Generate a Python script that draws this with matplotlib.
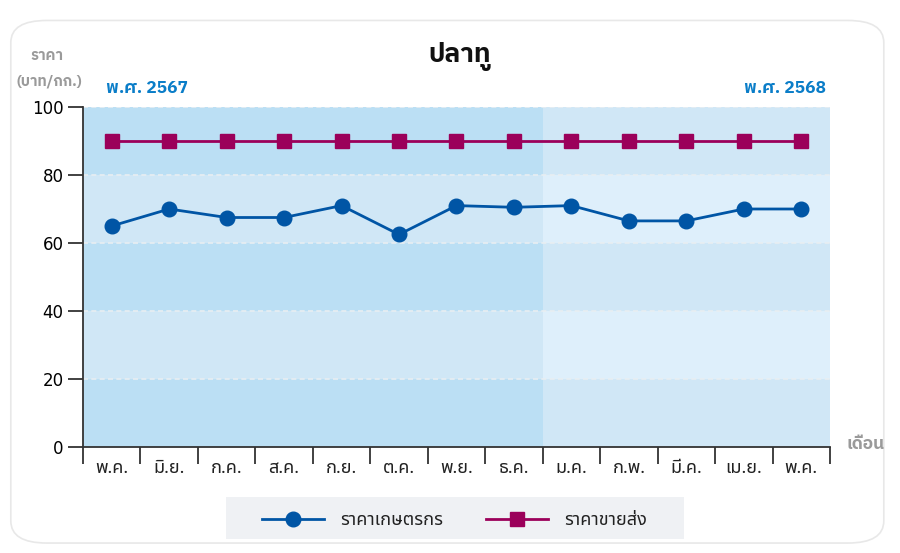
import matplotlib
matplotlib.use("Agg")
import matplotlib.pyplot as plt
from matplotlib.patches import FancyBboxPatch, Rectangle
from matplotlib.lines import Line2D
import numpy as np

plt.rcParams['font.family'] = ['DejaVu Sans', 'Noto Sans Thai']

months = ['พ.ค.', 'มิ.ย.', 'ก.ค.', 'ส.ค.', 'ก.ย.', 'ต.ค.', 'พ.ย.', 'ธ.ค.',
          'ม.ค.', 'ก.พ.', 'มี.ค.', 'เม.ย.', 'พ.ค.']
farm_price = [65, 70, 67.5, 67.5, 71, 62.5, 71, 70.5, 71, 66.5, 66.5, 70, 70]
wholesale_price = [90, 90, 90, 90, 90, 90, 90, 90, 90, 90, 90, 90, 90]
n_2567 = 8

blue = '#0055A5'
red = '#9B005A'
grey = '#9A9A9A'
yearblue = '#0A7DC8'
thai = ['Noto Sans Thai', 'DejaVu Sans']
thai_bold = ['IBM Plex Sans Thai', 'DejaVu Sans']

fig = plt.figure(figsize=(9, 5.53), dpi=100)

# card background
card = FancyBboxPatch((0.012, 0.018), 0.97, 0.945, boxstyle="round,pad=0,rounding_size=0.04",
                      transform=fig.transFigure, facecolor='white', edgecolor='#E8E8E8',
                      linewidth=1.2, zorder=-5)
fig.patches.append(card)

ax = fig.add_axes([0.0922, 0.1917, 0.830, 0.6148])
x = np.arange(len(months))
ax.set_xlim(-0.5, len(months) - 0.5)
ax.set_ylim(0, 100)
ax.set_facecolor('none')

# shaded bands
split = n_2567 - 0.5
for i, y0 in enumerate(range(0, 100, 20)):
    dark = (i % 2 == 0)
    left_c = '#BBDFF4' if dark else '#D0E7F6'
    right_c = '#D0E7F6' if dark else '#DEEFFB'
    ax.add_patch(Rectangle((-0.5, y0), split + 0.5, 20, facecolor=left_c, edgecolor='none', zorder=0))
    ax.add_patch(Rectangle((split, y0), len(months) - 0.5 - split, 20, facecolor=right_c,
                           edgecolor='none', zorder=0))
for yv in [20, 40, 60, 80, 100]:
    ax.axhline(yv, color='#E8EEF2', lw=1.2, ls=(0, (3, 2)), zorder=1)

ax.plot(x, wholesale_price, color=red, lw=2, marker='s', markersize=10, zorder=3)
ax.plot(x, farm_price, color=blue, lw=2, marker='o', markersize=10.5, zorder=4)

# axes styling
for s in ['top', 'right']:
    ax.spines[s].set_visible(False)
for s in ['left', 'bottom']:
    ax.spines[s].set_color('#333333')
    ax.spines[s].set_linewidth(1.3)
ax.set_yticks([0, 20, 40, 60, 80, 100])
ax.tick_params(axis='y', length=11, width=1.3, color='#333333', labelsize=12, pad=3)
ax.set_xticks(np.arange(-0.5, len(months), 1.0))
ax.set_xticklabels([])
ax.set_xticks(x, minor=True)
ax.set_xticklabels(months, minor=True, fontsize=13, family=thai, color='#222222')
ax.tick_params(axis='x', which='major', length=12, width=1.3, color='#333333')
ax.tick_params(axis='x', which='minor', length=0, pad=9)

# texts
fig.text(0.511, 0.898, 'ปลาทู', ha='center', va='center', fontsize=19, fontweight='bold',
         family=thai_bold, color='#111111')
fig.text(0.052, 0.899, 'ราคา', ha='center', va='center', fontsize=10.5, fontweight='bold',
         family=thai_bold, color=grey)
fig.text(0.055, 0.852, '(บาท/กก.)', ha='center', va='center', fontsize=10.5, fontweight='bold',
         family=thai_bold, color=grey)
fig.text(0.118, 0.840, 'พ.ศ. 2567', ha='left', va='center', fontsize=12.5, fontweight='bold',
         family=thai_bold, color=yearblue)
fig.text(0.918, 0.840, 'พ.ศ. 2568', ha='right', va='center', fontsize=12.5, fontweight='bold',
         family=thai_bold, color=yearblue)
fig.text(0.962, 0.197, 'เดือน', ha='center', va='center', fontsize=12.5, fontweight='bold',
         family=thai_bold, color=grey)

# legend box
fig.patches.append(Rectangle((0.251, 0.025), 0.509, 0.076, transform=fig.transFigure,
                             facecolor='#EFF1F4', edgecolor='none', zorder=1))
handles = [Line2D([], [], color=blue, lw=2, marker='o', markersize=10.5),
           Line2D([], [], color=red, lw=2, marker='s', markersize=10)]
leg = fig.legend(handles, ['ราคาเกษตรกร', 'ราคาขายส่ง'], loc='center', bbox_to_anchor=(0.505, 0.059),
                 ncol=2, frameon=False, handlelength=3.4, columnspacing=2.4, handletextpad=0.9,
                 prop={'family': thai, 'size': 13})
for t in leg.get_texts():
    t.set_color('#222222')

fig.savefig('out.png', dpi=100)
